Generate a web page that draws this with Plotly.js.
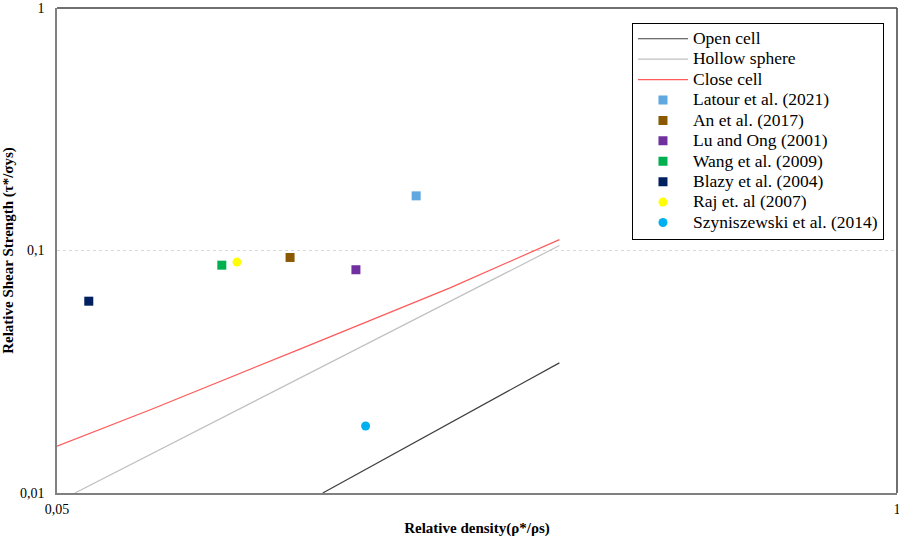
<!DOCTYPE html>
<html>
<head>
<meta charset="utf-8">
<script src="https://cdn.plot.ly/plotly-3.0.1.min.js"></script>
<style>
  body { margin: 0; padding: 0; background: #fff; }
  #chart { width: 899px; height: 537px; }
</style>
</head>
<body>
<div id="chart"></div>
<script>
// model curves
let model_names = ['Open cell', 'Hollow sphere', 'Close cell'];
let open_x = [0.129, 0.30];
let open_y = [0.01, 0.0344];
let hollow_x = [0.0533, 0.30];
let hollow_y = [0.01, 0.1048];
let close_x = [0.05, 0.0696, 0.1189, 0.2031, 0.30];
let close_y = [0.0156, 0.0220, 0.0392, 0.0701, 0.1109];

// experimental points
let study_names = ['Latour et al. (2021)', 'An et al. (2017)', 'Lu and Ong (2001)', 'Wang et al. (2009)',
                   'Blazy et al. (2004)', 'Raj et. al (2007)', 'Szyniszewski et al. (2014)'];
let study_x = [0.180, 0.1148, 0.1452, 0.090, 0.056, 0.095, 0.1503];
let study_y = [0.168, 0.0936, 0.0833, 0.0870, 0.0618, 0.0896, 0.0189];
let study_colors = ['#5fa8e0', '#8B5A00', '#7030A0', '#00B050', '#002060', '#FFFF00', '#00B0F0'];
let study_symbols = ['square', 'square', 'square', 'square', 'square', 'circle', 'circle'];

let x_ticks = [0.05, 1];
let x_ticktext = ['0,05', '1'];
let y_ticks = [0.01, 0.1, 1];
let y_ticktext = ['0,01', '0,1', '1'];

const serif = 'Liberation Serif, Times New Roman, serif';

// legend rows are tight in the original, so the text is set bigger than the row height
legendName = (s) => '<span style="font-size:17.5px">' + s + '</span>'

lineTrace = (name, x, y, color) => {
    return {
        x: x, y: y, name: legendName(name),
        type: 'scatter', mode: 'lines',
        line: {color: color, width: 1.2}
    }
}

var data = [
    lineTrace(model_names[0], open_x, open_y, '#404040'),
    lineTrace(model_names[1], hollow_x, hollow_y, '#c0c0c0'),
    lineTrace(model_names[2], close_x, close_y, '#ff5a5a')
]

for (let i = 0; i < study_names.length; i++) {
    data.push({
        x: [study_x[i]], y: [study_y[i]], name: legendName(study_names[i]),
        type: 'scatter', mode: 'markers',
        marker: {color: study_colors[i], symbol: study_symbols[i], size: 9}
    })
}

var layout = {
    width: 899, height: 537,
    margin: {l: 57, r: 2, t: 8, b: 44},
    paper_bgcolor: '#fff', plot_bgcolor: '#fff',
    font: {family: serif, size: 14, color: '#000'},
    showlegend: true,
    legend: {
        x: 0.6845, y: 0.97, xanchor: 'left', yanchor: 'top',
        bgcolor: '#fff', bordercolor: '#000', borderwidth: 1,
        font: {family: serif, size: 13.4, color: '#000'},
        itemwidth: 50, tracegroupgap: 0
    },
    xaxis: {
        type: 'log', range: [Math.log10(0.05), 0],
        tickvals: x_ticks, ticktext: x_ticktext,
        ticks: '', ticklen: 0, ticklabelstandoff: 2, ticklabeloverflow: 'allow',
        tickfont: {family: serif, size: 14},
        showgrid: false, zeroline: false,
        showline: true, linecolor: '#808080', linewidth: 1.5,
        title: {text: '<b>Relative density(ρ*/ρs)</b>', font: {family: serif, size: 15}, standoff: 10}
    },
    yaxis: {
        type: 'log', range: [-2, 0],
        tickvals: y_ticks, ticktext: y_ticktext,
        ticks: '', ticklen: 0, ticklabelstandoff: 8, ticklabeloverflow: 'allow',
        tickfont: {family: serif, size: 14},
        showgrid: true, gridcolor: '#d9d9d9', griddash: 'dot', gridwidth: 1,
        zeroline: false,
        showline: true, linecolor: '#808080', linewidth: 1.5,
        title: {text: '<b>Relative Shear Strength (τ*/σys)</b>', font: {family: serif, size: 15}, standoff: 8}
    },
    shapes: [
        {type: 'line', xref: 'paper', yref: 'paper', x0: 0, x1: 1, y0: 1, y1: 1,
         line: {color: '#404040', width: 1.5}},
        {type: 'line', xref: 'paper', yref: 'paper', x0: 1, x1: 1, y0: 0, y1: 1,
         line: {color: '#404040', width: 1.5}}
    ]
}

Plotly.newPlot('chart', data, layout, {displayModeBar: false})
</script>
</body>
</html>
